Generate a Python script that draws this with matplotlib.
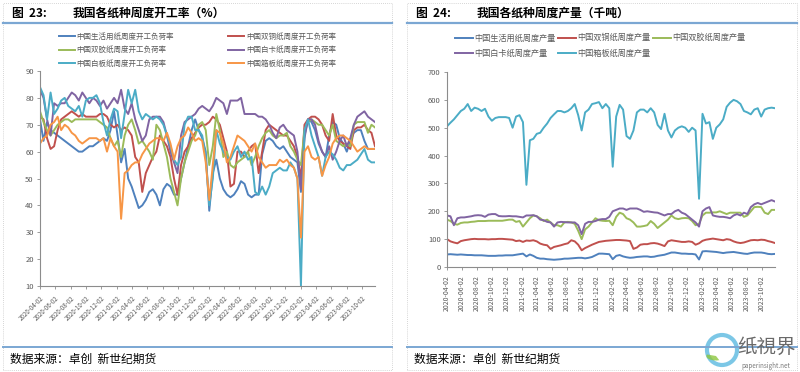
"""Weekly operating rate and output of paper grades in China (two panels)."""

import matplotlib

matplotlib.use("Agg")

import matplotlib.pyplot as plt
import pandas as pd
from matplotlib.lines import Line2D
from matplotlib.patches import Ellipse, Rectangle, Wedge

plt.rcParams["font.family"] = ["Noto Sans CJK SC", "DejaVu Sans"]

# ---- data (two-week steps from 2020-04-02) ----
start_date = "2020-04-02"
n_points = 96

tick_labels = [
    "2020-04-02", "2020-06-02", "2020-08-02", "2020-10-02", "2020-12-02",
    "2021-02-02", "2021-04-02", "2021-06-02", "2021-08-02", "2021-10-02",
    "2021-12-02", "2022-02-02", "2022-04-02", "2022-06-02", "2022-08-02",
    "2022-10-02", "2022-12-02", "2023-02-02", "2023-04-02", "2023-06-02",
    "2023-08-02", "2023-10-02",
]

# operating rate (%)
rate_tissue = [
    72, 64, 71, 68, 67, 66, 65, 64, 63, 62,
    61, 60, 60, 61, 62, 62, 63, 64, 65, 64,
    68, 75, 66, 56, 61, 50, 47, 43, 39, 40,
    42, 45, 46, 44, 40, 46, 48, 47, 44, 44,
    50, 56, 62, 68, 72, 68, 65, 60, 38, 52,
    57, 50, 46, 44, 43, 44, 46, 49, 48, 44,
    43, 44, 44, 59, 64, 65, 64, 62, 61, 62,
    60, 58, 57, 56, 45, 66, 72, 71, 68, 63,
    60, 58, 66, 71, 70, 65, 63, 60, 64, 67,
    68, 68, 64, 61, 61, 61,
]
rate_coated = [
    73, 72, 65, 61, 62, 68, 72, 73, 74, 75,
    74, 73, 74, 73, 73, 73, 73, 74, 74, 73,
    70, 69, 70, 68, 69, 68, 66, 58, 56, 45,
    52, 55, 58, 60, 66, 64, 62, 58, 50, 44,
    55, 60, 62, 65, 67, 69, 70, 70, 71, 73,
    72, 70, 65, 60, 47, 48, 60, 60, 58, 60,
    62, 63, 52, 60, 68, 70, 69, 68, 67, 66,
    66, 64, 62, 58, 50, 70, 72, 73, 73, 72,
    70, 66, 64, 74, 66, 64, 63, 62, 61, 68,
    69, 69, 70, 68, 67, 62,
]
rate_woodfree = [
    75, 71, 68, 66, 68, 70, 71, 72, 72, 71,
    72, 72, 72, 72, 72, 72, 72, 71, 70, 69,
    65, 62, 64, 58, 66, 70, 72, 68, 63, 64,
    62, 60, 57, 70, 68, 63, 58, 50, 45, 40,
    50, 56, 60, 64, 66, 70, 71, 68, 55, 62,
    74, 68, 58, 60, 55, 54, 56, 57, 58, 60,
    55, 58, 62, 65, 67, 68, 66, 65, 66, 66,
    67, 62, 60, 57, 55, 68, 71, 72, 71, 70,
    70, 68, 66, 70, 64, 63, 62, 63, 62, 70,
    71, 71, 71, 67, 70, 69,
]
rate_ivory = [
    83, 80, 72, 66, 78, 77, 78, 78, 80, 82,
    81, 79, 82, 80, 78, 80, 79, 77, 79, 76,
    78, 80, 78, 83, 76, 74, 78, 72, 68, 64,
    66, 72, 73, 73, 73, 71, 66, 60, 56, 52,
    66, 71, 72, 73, 74, 76, 77, 76, 75, 77,
    80, 79, 78, 74, 79, 79, 79, 80, 74, 74,
    74, 74, 73, 73, 72, 70, 67, 65, 69, 70,
    68, 67, 66, 60, 46, 65, 72, 72, 70, 64,
    60, 58, 62, 57, 60, 64, 66, 62, 65, 70,
    73, 74, 75, 73, 72, 71,
]
rate_duplex = [
    84, 81, 72, 82, 74, 76, 79, 80, 77, 76,
    75, 77, 73, 79, 80, 80, 81, 78, 71, 66,
    72, 76, 75, 65, 74, 83, 78, 83, 75, 72,
    74, 73, 72, 73, 72, 70, 66, 62, 57, 55,
    58, 70, 73, 73, 68, 68, 66, 58, 40, 50,
    68, 63, 60, 58, 57, 60, 62, 58, 60, 57,
    58, 45, 44, 47, 44, 47, 52, 53, 54, 53,
    53, 56, 54, 50, 10, 68, 72, 66, 62, 58,
    51, 58, 60, 59, 57, 54, 53, 55, 55, 56,
    57, 59, 61, 57, 56, 56,
]
rate_container = [
    63, 65, 66, 70, 71, 73, 68, 70, 69, 67,
    66, 64, 63, 64, 65, 65, 65, 64, 65, 60,
    65, 62, 60, 35, 52, 53, 55, 56, 56, 59,
    61, 63, 64, 65, 65, 64, 67, 63, 57, 62,
    65, 66, 69, 67, 64, 65, 64, 56, 42, 55,
    68, 67, 63, 56, 58, 62, 66, 65, 64, 62,
    60, 63, 58, 56, 54, 55, 55, 55, 57, 56,
    57, 55, 54, 50, 28, 60, 62, 58, 57, 58,
    51, 55, 58, 63, 65, 66, 66, 65, 64, 62,
    60, 61, 62, 61, 61, 61,
]

# weekly output (kt)
prod_tissue = [
    45, 46, 45, 44, 45, 44, 43, 43, 42, 42,
    42, 41, 40, 40, 40, 41, 41, 42, 42, 42,
    44, 46, 48, 38, 45, 40, 33, 30, 30, 28,
    27, 26, 27, 28, 30, 30, 31, 32, 33, 33,
    31, 33, 36, 42, 48, 48, 47, 46, 28, 40,
    43, 38, 35, 33, 34, 36, 37, 38, 38, 36,
    37, 40, 42, 44, 48, 52, 52, 50, 48, 48,
    47, 47, 45, 27, 56, 57, 56, 55, 54, 52,
    50, 52, 53, 54, 52, 50, 48, 47, 50, 52,
    52, 52, 50, 47, 46, 47,
]
prod_coated = [
    100, 92, 88, 85, 93, 96, 98, 100, 101, 100,
    100, 100, 99, 100, 100, 101, 101, 100, 99, 98,
    93, 95, 90, 95, 94, 96, 92, 84, 80, 78,
    65, 72, 75, 78, 82, 85, 96, 92, 80, 60,
    68, 74, 80, 85, 90, 92, 94, 95, 96, 97,
    97, 96, 95, 93, 65, 70, 80, 82, 82, 85,
    86, 84, 80, 75, 92, 96, 94, 92, 90, 90,
    92, 90, 80, 85, 94, 98, 100, 102, 100, 98,
    96, 100, 98, 92, 88, 86, 88, 92, 96, 97,
    96, 98, 97, 93, 90, 86,
]
prod_woodfree = [
    170, 165, 155, 152, 158, 160, 160, 162, 163, 165,
    165, 165, 166, 166, 166, 166, 166, 168, 170, 170,
    162, 165, 145, 160, 175, 185, 182, 175, 165, 170,
    160, 150, 150, 145, 160, 162, 160, 155, 130, 100,
    135, 145, 160, 175, 168, 166, 165, 166, 150, 180,
    195, 190, 175, 170, 160, 145, 145, 147, 150, 165,
    155, 140, 150, 160, 170, 185, 175, 172, 175, 176,
    175, 165, 150, 155, 185, 195, 195, 196, 196, 200,
    195, 190, 195, 195, 195, 195, 180, 185, 200, 215,
    216, 215, 195, 190, 205, 205,
]
prod_ivory = [
    185, 182, 150, 175, 178, 178, 180, 182, 185, 186,
    185, 180, 188, 190, 190, 183, 182, 182, 183, 182,
    182, 180, 178, 185, 185, 186, 182, 170, 168, 162,
    160, 145, 160, 162, 161, 160, 160, 160, 150, 118,
    155, 162, 162, 165, 170, 172, 172, 180, 200, 205,
    210, 210, 205, 210, 210, 210, 205, 198, 200, 198,
    196, 195, 190, 185, 190, 190, 200, 205, 195, 190,
    180, 170, 160, 145, 200, 210, 215, 185, 182, 180,
    180, 178, 175, 185, 190, 185, 195, 190, 215, 225,
    230, 225, 230, 235, 240, 235,
]
prod_container = [
    505, 518, 530, 545, 560, 568, 585, 560, 572, 568,
    560, 568, 540, 525, 535, 538, 538, 538, 535, 500,
    540, 545, 520, 295, 455, 460, 478, 482, 500, 515,
    535, 548, 560, 560, 555, 560, 570, 585, 545, 490,
    555, 565, 585, 588, 592, 570, 585, 570, 360, 540,
    582, 565, 470, 460, 490, 555, 565, 565, 555, 570,
    555, 510, 495, 550, 490, 465, 490, 500, 505, 500,
    485, 500, 490, 245, 550, 515, 520, 460, 500, 512,
    530, 575, 590, 600, 595, 585, 560, 555, 548, 565,
    570, 540, 565, 570, 572, 570,
]

BLUE, RED, GREEN = "#4F81BD", "#C0504D", "#9BBB59"
PURPLE, CYAN, ORANGE = "#8064A2", "#4BACC6", "#F79646"
TICK_GREY = "#595959"
BAR_BLUE = "#7BA7D3"

dates = pd.date_range(start_date, periods=n_points, freq="14D")
tick_dates = pd.to_datetime(tick_labels)

W, H = 800, 372


def fx(px):
    return px / W


def fy(py):
    return 1 - py / H


def style_axes(ax):
    for side in ("top", "right"):
        ax.spines[side].set_visible(False)
    for side in ("left", "bottom"):
        ax.spines[side].set_color("#8C8C8C")
        ax.spines[side].set_linewidth(0.8)
    ax.tick_params(axis="both", direction="out", length=2.5, width=0.6,
                   color="#8C8C8C", labelcolor=TICK_GREY)
    ax.tick_params(axis="y", labelsize=5.5, pad=2)
    ax.set_xticks(tick_dates)
    ax.set_xlim(dates[0], dates[-1])


def panel_frame(fig, x0, x1, fig_no, title):
    fig.add_artist(Rectangle((fx(x0), fy(370)), fx(x1 - x0), (367 / H),
                             transform=fig.transFigure, fill=False,
                             edgecolor="#C8C8C8", linestyle=(0, (1, 1.5)),
                             linewidth=0.6))
    fig.add_artist(Line2D([fx(x0), fx(x1)], [fy(23), fy(23)],
                          transform=fig.transFigure, color=BAR_BLUE, lw=1.6))
    fig.add_artist(Line2D([fx(x0), fx(x1)], [fy(347), fy(347)],
                          transform=fig.transFigure, color=BAR_BLUE, lw=1.4))
    fig.text(fx(x0 + 9), fy(13), f"图  {fig_no}:", fontsize=8.5,
             fontweight="bold", va="center")
    fig.text(fx(x0 + 70), fy(13), title, fontsize=8.5, fontweight="bold",
             va="center")
    fig.text(fx(x0 + 7), fy(359), "数据来源：卓创  新世纪期货", fontsize=8.5,
             va="center")


fig = plt.figure(figsize=(8, 3.72), dpi=100)

# ---- left panel: operating rate ----
ax1 = fig.add_axes([fx(40), fy(286), fx(335), 215 / H])
rate_series = [
    (rate_tissue, BLUE, "中国生活用纸周度开工负荷率"),
    (rate_coated, RED, "中国双铜纸周度开工负荷率"),
    (rate_woodfree, GREEN, "中国双胶纸周度开工负荷率"),
    (rate_ivory, PURPLE, "中国白卡纸周度开工负荷率"),
    (rate_duplex, CYAN, "中国白板纸周度开工负荷率"),
    (rate_container, ORANGE, "中国箱板纸周度开工负荷率"),
]
handles1 = {}
for values, color, name in rate_series:
    (line,) = ax1.plot(dates, values, color=color, lw=1.4, label=name)
    handles1[name] = line
ax1.set_ylim(10, 90)
ax1.set_yticks(range(10, 91, 10))
style_axes(ax1)
ax1.set_xticklabels(tick_labels, rotation=45, ha="right",
                    rotation_mode="anchor", fontsize=4.5)

order1 = [rate_series[i][2] for i in (0, 2, 4, 1, 3, 5)]
fig.legend([handles1[n] for n in order1], order1, ncol=2,
           loc="upper left", bbox_to_anchor=(fx(52), fy(26)),
           frameon=False, fontsize=5.4, handlelength=2.1,
           handletextpad=0.3, columnspacing=7.2, labelspacing=0.72,
           labelcolor=TICK_GREY)

# ---- right panel: output ----
ax2 = fig.add_axes([fx(447), fy(267), fx(328), 195 / H])
prod_series = [
    (prod_tissue, BLUE, "中国生活用纸周度产量"),
    (prod_coated, RED, "中国双铜纸周度产量"),
    (prod_woodfree, GREEN, "中国双胶纸周度产量"),
    (prod_ivory, PURPLE, "中国白卡纸周度产量"),
    (prod_container, CYAN, "中国箱板纸周度产量"),
]
handles2 = {}
for values, color, name in prod_series:
    (line,) = ax2.plot(dates, values, color=color, lw=1.4, label=name)
    handles2[name] = line
ax2.set_ylim(0, 700)
ax2.set_yticks(range(0, 701, 100))
style_axes(ax2)
ax2.set_xticklabels(tick_labels, rotation=90, ha="center", va="top",
                    fontsize=5)

order2 = [prod_series[i][2] for i in (0, 3, 1, 4, 2)]
fig.legend([handles2[n] for n in order2], order2, ncol=3,
           loc="upper left", bbox_to_anchor=(fx(448), fy(26)),
           frameon=False, fontsize=5.9, handlelength=2.2,
           handletextpad=0.15, columnspacing=0.3, labelspacing=0.75,
           labelcolor=TICK_GREY)

panel_frame(fig, 3, 392, 23, "我国各纸种周度开工率（%）")
panel_frame(fig, 407, 797, 24, "我国各纸种周度产量（千吨）")

# watermark
fig.add_artist(Ellipse((fx(722), fy(350)), fx(30), 30 / H,
                       transform=fig.transFigure, facecolor="white",
                       edgecolor="#6EC1E4", lw=3, alpha=0.9))
fig.add_artist(Wedge((fx(716), fy(356)), 0.012, 160, 290,
                     transform=fig.transFigure, facecolor="#8DC63F",
                     alpha=0.8))
fig.text(fx(766), fy(347), "纸視界", fontsize=14, color="#6A6A6A",
         ha="center", va="center")
fig.text(fx(766), fy(366), "paperinsight.net", fontsize=4.5,
         color="#7A7A7A", ha="center", va="center")

fig.savefig("out.png", dpi=100)
